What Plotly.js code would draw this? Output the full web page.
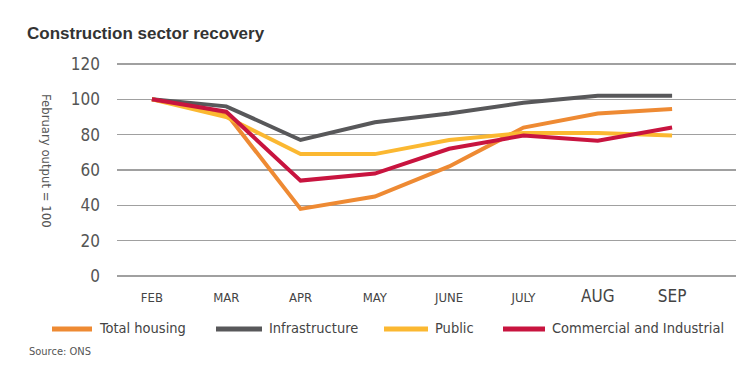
<!DOCTYPE html>
<html>
<head>
<meta charset="utf-8">
<script src="https://cdn.plot.ly/plotly-3.0.1.min.js"></script>
<style>body{margin:0;background:#fff}#chart{width:754px;height:372px}</style>
</head>
<body>
<div id="chart"></div>
<script>
var months = ["FEB","MAR","APR","MAY","JUNE","JULY","AUG","SEP"];
var monthLabels = ["FEB","MAR","APR","MAY","JUNE","JULY",
  "<span style='font-size:17px'>AUG</span>","<span style='font-size:17px'>SEP</span>"];
var totalHousing = [100, 92, 38, 45, 62, 84, 92, 94.5];
var infrastructure = [100, 96, 77, 87, 92, 98, 102, 102];
var publicSector = [100, 90, 69, 69, 77, 81, 81, 79.5];
var commercial = [100, 93, 54, 58, 72, 79.5, 76.5, 84];
var seriesNames = ["Total housing","Infrastructure","Public","Commercial and Industrial"];
var seriesColors = ["#EE8A33","#58585A","#FBB831","#C8143F"];
var yTicks = [0,20,40,60,80,100,120];

var font = "'DejaVu Sans Condensed', 'Liberation Sans Narrow', sans-serif";
var idx = months.map(function(_, i){return i;});
var allSeries = [totalHousing, infrastructure, publicSector, commercial];
var traces = allSeries.map(function(s, k){
  return {x: idx, y: s, type: "scatter", mode: "lines", name: seriesNames[k],
    line: {color: seriesColors[k], width: 4}, showlegend: false};
});

// plot area in pixels: x 117..736, y 62..278 (range -1..121)
var L = 117, W = 619, T = 62, H = 216;
function px(x){ return (x - L) / W; }
function py(y){ return (T + H - y) / H; }
var legX = [52, 216, 384, 503];
var legLen = [40, 46, 44, 42];
var shapes = [], annotations = [];
seriesNames.forEach(function(n, k){
  shapes.push({type: "line", xref: "paper", yref: "paper",
    x0: px(legX[k]), x1: px(legX[k]+legLen[k]), y0: py(329), y1: py(329),
    line: {color: seriesColors[k], width: 5}});
  annotations.push({xref: "paper", yref: "paper", x: px(legX[k]+legLen[k]+5),
    y: py(328), xanchor: "left", yanchor: "middle", showarrow: false,
    text: n, font: {family: font, size: 14.5, color: "#444"}});
});
annotations.push({xref: "paper", yref: "paper", x: px(47), y: py(161),
  textangle: 90, showarrow: false, xanchor: "center", yanchor: "middle",
  text: "February output = 100", font: {family: font, size: 13, color: "#555"}});
annotations.push({xref: "paper", yref: "paper", x: px(27), y: py(351),
  xanchor: "left", yanchor: "middle", showarrow: false, text: "Source: ONS",
  font: {family: font, size: 11, color: "#555"}});

var layout = {
  width: 754, height: 372,
  margin: {l: L, r: 754 - L - W, t: T, b: 372 - T - H},
  paper_bgcolor: "#fff", plot_bgcolor: "#fff",
  title: {text: "<b>Construction sector recovery</b>", x: 27/754, xanchor: "left",
    y: 1-33/372, yanchor: "middle", font: {family: "'Liberation Sans', Arial, sans-serif", size: 17, color: "#333"}},
  xaxis: {range: [-0.47, 7.86], tickvals: idx, ticktext: monthLabels, showgrid: false,
    zeroline: false, showline: false, ticks: "", ticklabelstandoff: 10,
    tickfont: {family: font, size: 13, color: "#444"}, fixedrange: true},
  yaxis: {range: [-1.1, 121.1], tickvals: yTicks, showgrid: true, gridcolor: "#A0A0A0", gridwidth: 1.5,
    zeroline: false, showline: false, ticks: "", ticklabelstandoff: 16,
    tickfont: {family: font, size: 17, color: "#555"}},
  shapes: shapes, annotations: annotations, showlegend: false
};
Plotly.newPlot("chart", traces, layout, {displayModeBar: false, staticPlot: true});
</script>
</body>
</html>
